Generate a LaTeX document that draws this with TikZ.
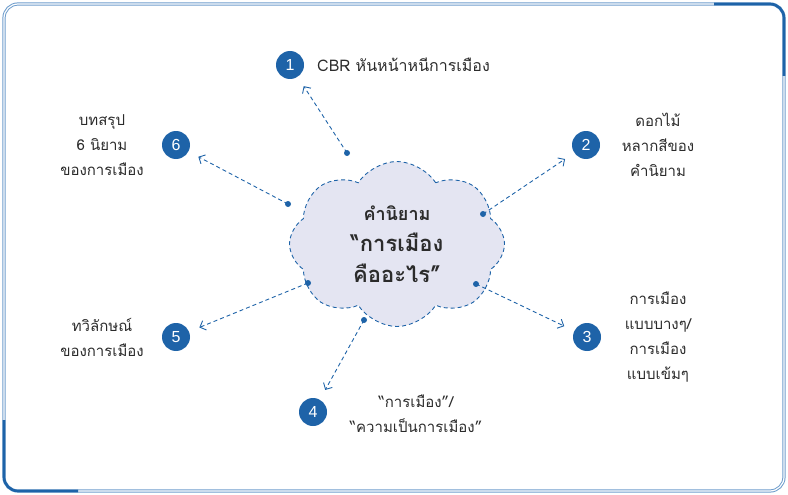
\documentclass[tikz,border=0pt]{standalone}
\usepackage{fontspec}
\setmainfont[Script=Thai]{Loma}
\newfontfamily\numfont{Liberation Sans}
\usetikzlibrary{shapes.symbols,arrows.meta}

\definecolor{frameblue}{HTML}{1E63A8}
\definecolor{framelight}{HTML}{6E9DCC}
\definecolor{cloudfill}{HTML}{E4E5F2}
\definecolor{txtgray}{HTML}{2B2B2B}

\tikzset{
  numdot/.style={circle, fill=frameblue, text=white, minimum size=28pt,
    inner sep=0pt, font=\numfont\fontsize{16}{16}\selectfont},
  lbl/.style={text=txtgray, align=center, inner sep=0pt,
    font=\fontsize{15}{25}\selectfont},
  link/.style={frameblue, line width=0.9pt, dash pattern=on 4pt off 3pt,
    -{Straight Barb[length=5pt,width=10pt]}, shorten >=11pt},
}

\begin{document}
\begin{tikzpicture}[x=1pt,y=-1pt]
    \useasboundingbox (0,0) rectangle (788,495);

    % frame
    \draw[framelight, double=white, double distance=1.2pt, line width=1pt,
        rounded corners=14pt] (4,4) rectangle (784,491);
    \draw[frameblue, line width=2.6pt, rounded corners=14pt]
        (714,4) -- (784,4) -- (784,76);
    \draw[frameblue, line width=2.6pt, rounded corners=14pt]
        (4,420) -- (4,491) -- (78,491);

    % cloud
    \node[cloud, cloud puffs=8, cloud puff arc=115, aspect=1.3,
        draw=frameblue, fill=cloudfill, shape border rotate=10,
        line width=0.9pt, dash pattern=on 4pt off 3pt,
        minimum width=215pt, minimum height=165pt, align=center,
        text=txtgray, font=\bfseries\fontsize{22}{31}\selectfont]
        (cloud) at (397,244)
        {{\fontsize{18}{31}\selectfont คำนิยาม}\\
         “การเมือง\\
         คืออะไร”};

    % points on the cloud
    \coordinate (p1) at (347,153);
    \coordinate (p2) at (483,214);
    \coordinate (p3) at (476,284);
    \coordinate (p4) at (364,320);
    \coordinate (p5) at (308,283);
    \coordinate (p6) at (288,204);

    % numbers
    \node[numdot] (n1) at (290,65) {1};
    \node[numdot] (n2) at (586,145) {2};
    \node[numdot] (n3) at (587,337) {3};
    \node[numdot] (n4) at (313,412) {4};
    \node[numdot] (n5) at (176,337) {5};
    \node[numdot] (n6) at (176,145) {6};

    % labels
    \node[lbl, anchor=west, font=\fontsize{16}{25}\selectfont]
        (t1) at (317,65) {CBR หันหน้าหนีการเมือง};
    \node[lbl] (t2) at (658,145) {ดอกไม้\\หลากสีของ\\คำนิยาม};
    \node[lbl] (t3) at (658,337) {การเมือง\\แบบบางๆ/\\การเมือง\\แบบเข้มๆ};
    \node[lbl] (t4) at (416,414) {“การเมือง”/\\“ความเป็นการเมือง”};
    \node[lbl] (t5) at (102,337) {ทวิลักษณ์\\ของการเมือง};
    \node[lbl] (t6) at (102,145) {บทสรุป\\6 นิยาม\\ของการเมือง};

    % arrows
    \foreach \i in {1,...,6}{
        \draw[link] (p\i) -- (n\i);
        \fill[frameblue] (p\i) circle (3pt);
    }

\end{tikzpicture}
\end{document}
